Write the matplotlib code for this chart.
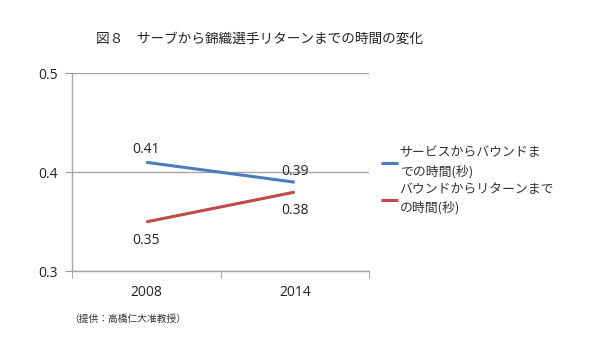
import matplotlib
matplotlib.use("Agg")
import matplotlib.pyplot as plt

plt.rcParams['font.family'] = ['Noto Sans CJK JP', 'DejaVu Sans']

years = ["2008", "2014"]
serve_to_bounce = [0.41, 0.39]
bounce_to_return = [0.35, 0.38]
series_labels = ["サービスからバウンドま\nでの時間(秒)", "バウンドからリターンまで\nの時間(秒)"]
title = "図８　サーブから錦織選手リターンまでの時間の変化"
source = "（提供：高橋仁大准教授）"

fig = plt.figure(figsize=(6.0, 3.57), dpi=100)
ax = fig.add_axes([0.12, 0.2395, 0.495, 0.556])

x = [0, 1]
l1, = ax.plot(x, serve_to_bounce, color="#4A7EBB", lw=2.2, solid_capstyle="butt")
l2, = ax.plot(x, bounce_to_return, color="#BE4B48", lw=2.2, solid_capstyle="butt")

ax.set_xlim(-0.5, 1.5)
ax.set_ylim(0.3, 0.5)
ax.set_yticks([0.3, 0.4, 0.5])
ax.set_yticklabels(["0.3", "0.4", "0.5"])
ax.set_xticks(x)
ax.set_xticklabels(years)
ax.set_xticks([-0.5, 0.5, 1.5], minor=True)
ax.tick_params(axis='x', which='major', length=0, pad=10, labelsize=10, labelcolor="#222222")
ax.tick_params(axis='x', which='minor', length=5, color="#999999", direction="out")
ax.tick_params(axis='y', length=5, color="#999999", labelsize=10, labelcolor="#222222", pad=5)
for lbl in ax.get_xticklabels() + ax.get_yticklabels():
    lbl.set_family(['Open Sans', 'DejaVu Sans'])

ax.grid(axis='y', color="#A6A6A6", lw=1.0)
ax.set_axisbelow(True)
for s in ["top", "right"]:
    ax.spines[s].set_visible(False)
for s in ["left", "bottom"]:
    ax.spines[s].set_color("#A6A6A6")
    ax.spines[s].set_linewidth(1.0)

lab_font = dict(fontsize=10, color="#222222", family=['Open Sans', 'DejaVu Sans'], ha="center")
# blue labels above, red labels below
ax.annotate(f"{serve_to_bounce[0]:.2f}", (0, serve_to_bounce[0]), xytext=(0, 4), textcoords="offset points", va="bottom", **lab_font)
ax.annotate(f"{serve_to_bounce[1]:.2f}", (1, serve_to_bounce[1]), xytext=(0, 2.5), textcoords="offset points", va="bottom", **lab_font)
ax.annotate(f"{bounce_to_return[0]:.2f}", (0, bounce_to_return[0]), xytext=(0, -8), textcoords="offset points", va="top", **lab_font)
ax.annotate(f"{bounce_to_return[1]:.2f}", (1, bounce_to_return[1]), xytext=(0, -7.5), textcoords="offset points", va="top", **lab_font)

fig.text(0.433, 0.893, title, ha="center", va="center", fontsize=9.8, color="#222222")

leg = fig.legend([l1, l2], series_labels, loc="upper left", bbox_to_anchor=(0.624, 0.608),
                 frameon=False, fontsize=9.3, handlelength=1.3, handletextpad=0.15,
                 labelspacing=0.4, borderpad=0, labelcolor="#333333")
for t in leg.get_texts():
    t.set_linespacing(1.5)

fig.text(0.116, 0.106, source, ha="left", va="center", fontsize=7.0, color="#333333")

fig.savefig("out.png", dpi=100)
